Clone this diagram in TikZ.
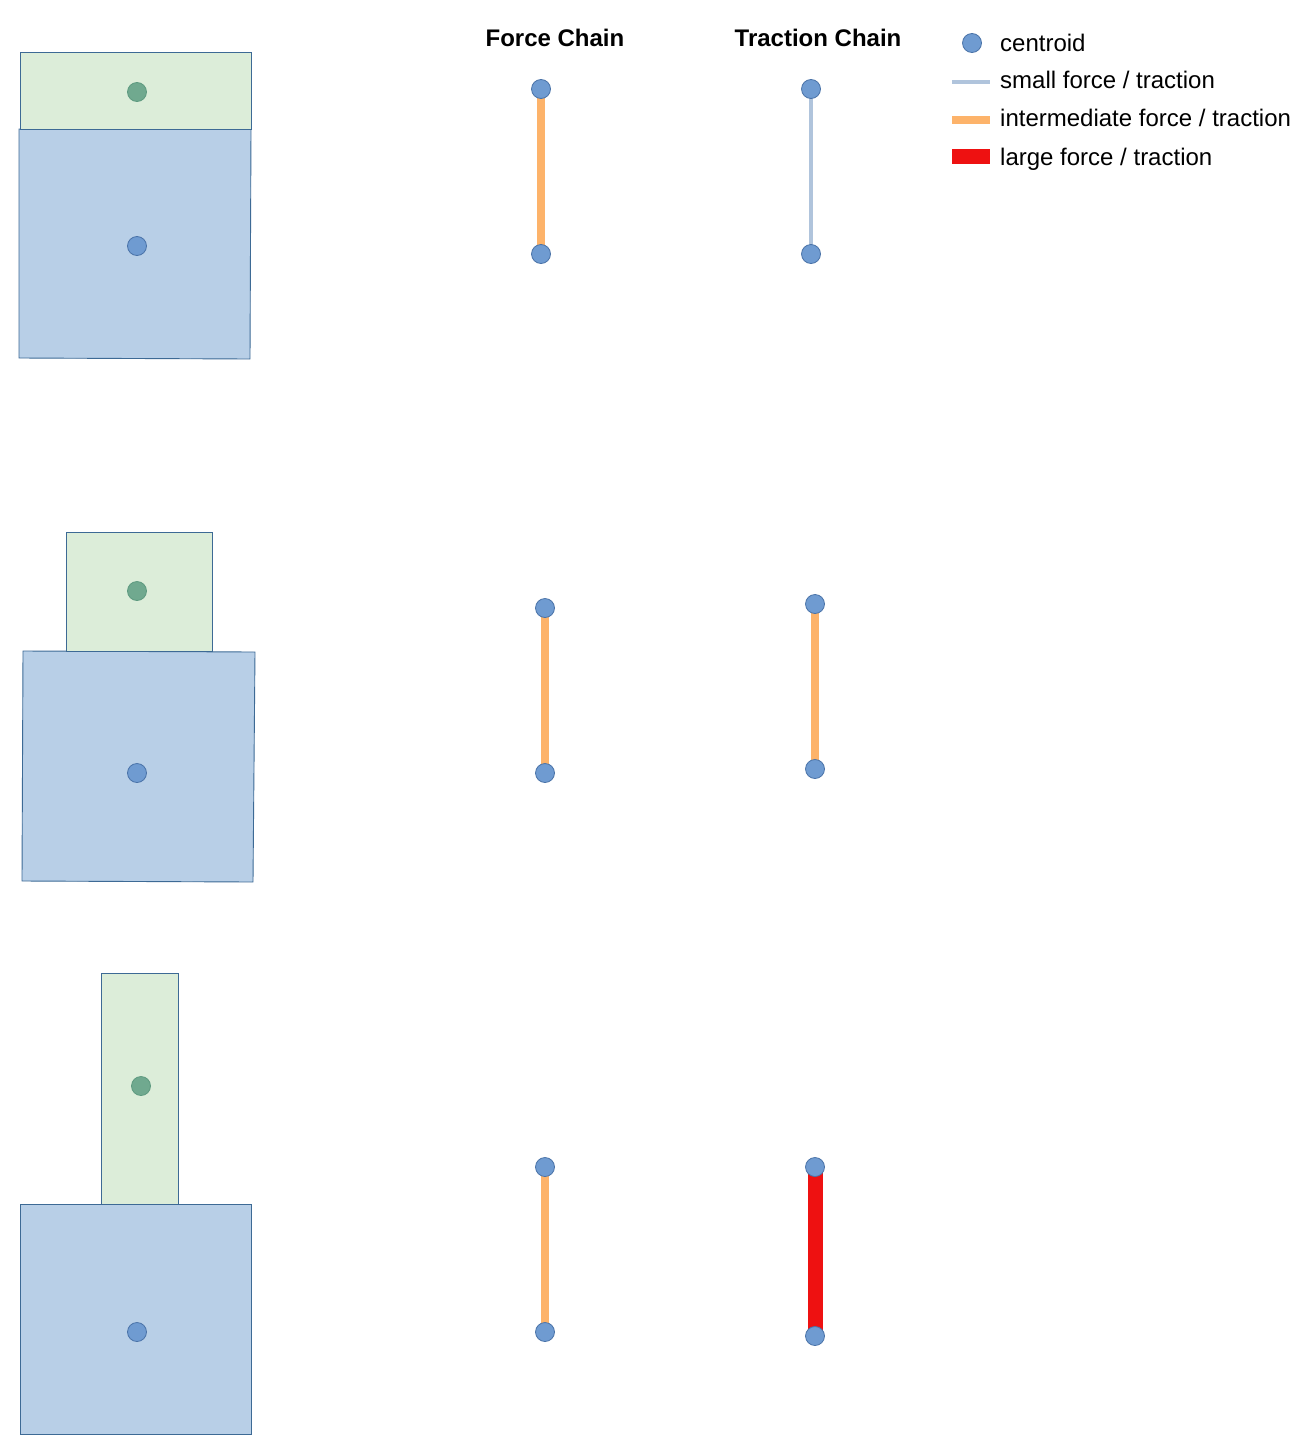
\documentclass[tikz,border=0pt]{standalone}
\usepackage{fontspec}
\setmainfont{Liberation Sans}
\usetikzlibrary{backgrounds}
\definecolor{cblue}{HTML}{6F9BD1}
\definecolor{cblueB}{HTML}{4A73A8}
\definecolor{cgreen}{HTML}{70A98F}
\definecolor{cgreenB}{HTML}{5E9A80}
\definecolor{rgreen}{HTML}{DCEDD9}
\definecolor{rblue}{HTML}{B8CFE7}
\definecolor{redge}{HTML}{3D6A95}
\definecolor{corange}{HTML}{FDB36A}
\definecolor{clight}{HTML}{B0C4DC}
\definecolor{cred}{HTML}{EE1111}
\tikzset{
  cent/.style={circle,fill=cblue,draw=cblueB,line width=0.8pt,minimum size=19pt,inner sep=0pt},
  gcent/.style={circle,fill=cgreen,draw=cgreenB,line width=0.8pt,minimum size=19pt,inner sep=0pt},
  gbox/.style={fill=rgreen,draw=redge,line width=0.9pt},
  bbox/.style={fill=rblue,draw=redge,line width=0.9pt},
  small/.style={draw=clight,line width=4pt},
  inter/.style={draw=corange,line width=8pt},
  large/.style={draw=cred,line width=15pt},
  title/.style={font=\fontsize{24}{28}\selectfont\bfseries,anchor=base},
  leg/.style={font=\fontsize{24}{28}\selectfont,anchor=base west,inner sep=0pt}
}
\begin{document}
\begin{tikzpicture}[x=1pt,y=-1pt]
\useasboundingbox (0,0) rectangle (1293,1435);
% row 1 bodies
\draw[bbox] (19,129) -- (251,129) -- (250,359) -- (19,358) -- cycle;
\draw[gbox] (20,52) rectangle (251,129);
\node[gcent] (g1) at (137,92) {};
\node[cent] (b1) at (137,246) {};
% row 2 bodies
\draw[bbox] (23,651) -- (255,652) -- (253,882) -- (22,881) -- cycle;
\draw[gbox] (66,532) rectangle (212,651);
\node[gcent] (g2) at (137,591) {};
\node[cent] (b2) at (137,773) {};
% row 3 bodies
\draw[bbox] (20,1204) -- (251,1204) -- (251,1434) -- (20,1434) -- cycle;
\draw[gbox] (101,973) rectangle (178,1204);
\node[gcent] (g3) at (141,1086) {};
\node[cent] (b3) at (137,1332) {};
% titles
\node[title] (tf) at (555,46) {Force Chain};
\node[title] (tt) at (818,46) {Traction Chain};
% chains
\node[cent] (f1a) at (541,89) {};
\node[cent] (f1b) at (541,254) {};
\node[cent] (t1a) at (811,89) {};
\node[cent] (t1b) at (811,254) {};
\node[cent] (f2a) at (545,608) {};
\node[cent] (f2b) at (545,773) {};
\node[cent] (t2a) at (815,604) {};
\node[cent] (t2b) at (815,769) {};
\node[cent] (f3a) at (545,1167) {};
\node[cent] (f3b) at (545,1332) {};
\node[cent] (t3a) at (815,1167) {};
\node[cent] (t3b) at (815,1336) {};
\begin{scope}[on background layer]
\draw[inter] (f1a.center) -- (f1b.center);
\draw[small] (t1a.center) -- (t1b.center);
\draw[inter] (f2a.center) -- (f2b.center);
\draw[inter] (t2a.center) -- (t2b.center);
\draw[inter] (f3a.center) -- (f3b.center);
\draw[large] (t3a.center) -- (t3b.center);
\end{scope}
% legend
\node[cent] (lc) at (972,43) {};
\coordinate (s1) at (952,82); \coordinate (s2) at (990,82);
\coordinate (i1) at (952,120); \coordinate (i2) at (990,120);
\coordinate (r1) at (952,156); \coordinate (r2) at (990,156);
\draw[small] (s1) -- (s2);
\draw[inter] (i1) -- (i2);
\draw[large] (r1) -- (r2);
\node[leg] (l1) at (1000,51) {centroid};
\node[leg] (l2) at (1000,88) {small force / traction};
\node[leg] (l3) at (1000,126) {intermediate force / traction};
\node[leg] (l4) at (1000,165) {large force / traction};
\end{tikzpicture}
\end{document}
